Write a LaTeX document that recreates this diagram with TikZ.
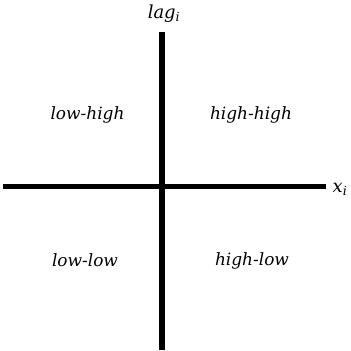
\documentclass[tikz,border=0pt]{standalone}
\usepackage{fontspec}
\setmainfont{DejaVu Serif}
\begin{document}
\begin{tikzpicture}[x=1bp,y=-1bp,
  axis/.style={line width=5.5bp,black},
  quad/.style={font=\fontsize{17}{20}\selectfont\itshape,anchor=base,inner sep=0pt},
  axlab/.style={font=\fontsize{18}{21}\selectfont\itshape,anchor=base,inner sep=0pt}]
\useasboundingbox (0,0) rectangle (351,351);
\coordinate (vt) at (162,32);
\coordinate (vb) at (162,350);
\coordinate (hl) at (3,186.5);
\coordinate (hr) at (326,186.5);
\draw[axis] (vt) -- (vb);
\draw[axis] (hl) -- (hr);
\node[axlab] (lag) at (164,18) {lag\textsubscript{i}};
\node[axlab] (xi) at (340,192) {x\textsubscript{i}};
\node[quad] (lh) at (87.5,119) {low-high};
\node[quad] (hh) at (251,119) {high-high};
\node[quad] (ll) at (85,266) {low-low};
\node[quad] (hlw) at (252,265) {high-low};
\end{tikzpicture}
\end{document}
